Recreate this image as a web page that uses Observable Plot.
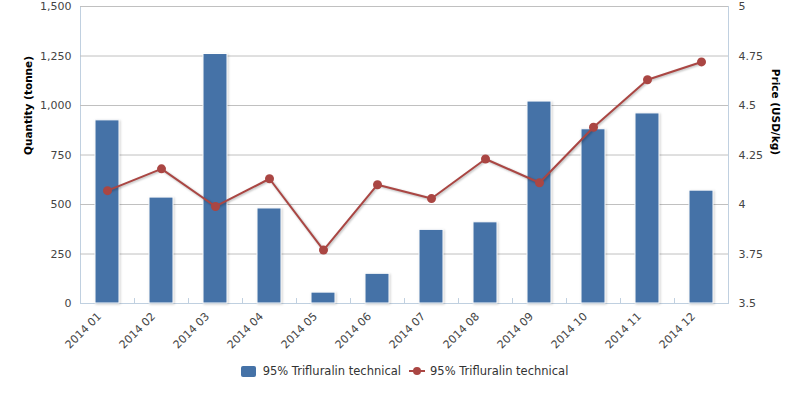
<!DOCTYPE html>
<html>
<head>
<meta charset="utf-8">
<script src="https://cdn.jsdelivr.net/npm/d3@7"></script>
<script src="https://cdn.jsdelivr.net/npm/@observablehq/plot@0.6"></script>
<style>
  html, body { margin: 0; padding: 0; background: #fff; }
  body { width: 800px; height: 397px; overflow: hidden; font-family: "DejaVu Sans", Verdana, sans-serif; }
  #chart svg { display: block; }
  #chart g[aria-label="bar"] rect { filter: drop-shadow(1px 1px 1px rgba(0,0,0,0.18)); }
  #chart g[aria-label="line"] path { filter: drop-shadow(1px 1px 1px rgba(0,0,0,0.3)); }
  .legend { display: flex; justify-content: center; align-items: center; height: 20px; margin-top: 11px; padding-left: 9px; font-size: 11.5px; color: #333; }
  .legend .item { display: flex; align-items: center; }
  .legend .sq { width: 15px; height: 11px; border-radius: 2px; background: #4572A7; margin-right: 7px; }
  .legend svg { margin-right: 5px; }
  .legend .gap { width: 8px; }
</style>
</head>
<body>
<div id="chart"></div>
<div class="legend" id="legend"></div>
<script>
const months = ["2014 01","2014 02","2014 03","2014 04","2014 05","2014 06","2014 07","2014 08","2014 09","2014 10","2014 11","2014 12"];
const quantity = [925, 535, 1260, 480, 55, 150, 372, 410, 1020, 880, 960, 570];
const price = [4.07, 4.18, 3.99, 4.13, 3.77, 4.10, 4.03, 4.23, 4.11, 4.39, 4.63, 4.72];
const qTicks = [0, 250, 500, 750, 1000, 1250, 1500];
const pTicks = [3.5, 3.75, 4, 4.25, 4.5, 4.75, 5];
const seriesName = "95% Trifluralin technical";
const qLabel = "Quantity (tonne)";
const pLabel = "Price (USD/kg)";

const barColor = "#4572A7";
const lineColor = "#AA4643";

const pMin = pTicks[0], pMax = pTicks[pTicks.length - 1], qMax = qTicks[qTicks.length - 1];
const toQ = p => (p - pMin) / (pMax - pMin) * qMax;
const toP = q => pMin + q / qMax * (pMax - pMin);

const data = months.map((m, i) => ({month: m, quantity: quantity[i], price: price[i], priceQ: toQ(price[i])}));

const fontFamily = '"DejaVu Sans", Verdana, sans-serif';

const chart = Plot.plot({
  width: 800,
  height: 350,
  marginLeft: 80,
  marginRight: 72,
  marginTop: 6,
  marginBottom: 47,
  style: {fontFamily, fontSize: "11px", color: "#444", background: "#fff", overflow: "visible"},
  x: {domain: months, paddingInner: 0.555, paddingOuter: 0.2775, axis: null},
  y: {domain: [0, qMax], axis: null},
  marks: [
    Plot.frame({stroke: "#C0D0E0"}),
    Plot.ruleY(qTicks.filter(d => d > 0), {stroke: "#C0C0C0"}),
    Plot.ruleY([0], {stroke: "#C0D0E0"}),
    Plot.ruleX(months, {x: d => d, dx: -27, y1: 0, y2: 25, stroke: "#C0D0E0"}),
    Plot.barY(data, {x: "month", y: "quantity", fill: barColor, stroke: "#fff", strokeWidth: 1}),
    Plot.line(data, {x: "month", y: "priceQ", stroke: lineColor, strokeWidth: 2}),
    Plot.dot(data, {x: "month", y: "priceQ", fill: lineColor, r: 4.5}),
    Plot.axisY(qTicks, {anchor: "left", tickSize: 0, tickPadding: 9, tickFormat: d3.format(","), label: null, fontSize: 11}),
    Plot.axisY(pTicks.map(toQ), {anchor: "right", tickSize: 0, tickPadding: 10, tickFormat: q => String(+toP(q).toFixed(2)), label: null, fontSize: 11}),
    Plot.axisX({tickRotate: -45, tickSize: 0, tickPadding: 11, label: null, fontSize: 11, dx: -8}),
    Plot.text([qLabel], {frameAnchor: "left", rotate: -90, dx: -52, fontWeight: "bold", fontSize: 10.5, fill: "#000"}),
    Plot.text([pLabel], {frameAnchor: "right", rotate: 90, dx: 47, fontWeight: "bold", fontSize: 10.5, fill: "#000"})
  ]
});
document.getElementById("chart").appendChild(chart);

const legend = document.getElementById("legend");
legend.innerHTML = `
  <div class="item"><div class="sq"></div><span>${seriesName}</span></div>
  <div class="gap"></div>
  <div class="item"><svg width="16" height="10"><line x1="0" y1="5" x2="16" y2="5" stroke="${lineColor}" stroke-width="2"/><circle cx="8" cy="5" r="4" fill="${lineColor}"/></svg><span>${seriesName}</span></div>
`;
</script>
</body>
</html>
